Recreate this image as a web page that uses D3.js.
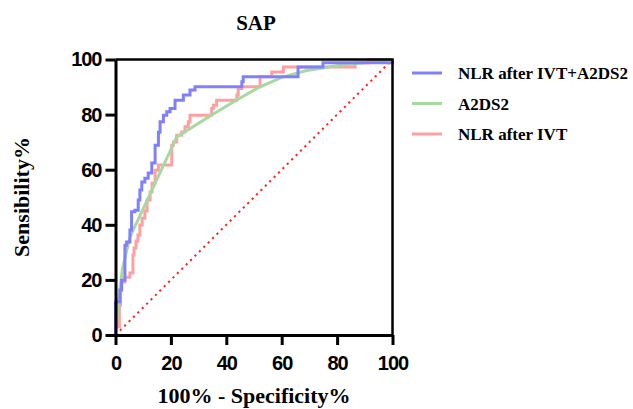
<!DOCTYPE html>
<html>
<head>
<meta charset="utf-8">
<script src="https://cdn.jsdelivr.net/npm/d3@7"></script>
<style>
  body { margin: 0; background: #fff; }
  .tick text { font-family: "Liberation Sans", Arial, sans-serif; font-weight: bold; font-size: 20px; letter-spacing: -1px; fill: #000; }
  .serif { font-family: "Liberation Serif", "Times New Roman", serif; font-weight: bold; fill: #000; }
</style>
</head>
<body>
<div id="roc"></div>
<script>
// ROC points [100% - specificity, sensitivity]
var comboRoc = [[0,0],[0.2,11.6],[1.6,12.1],[2.2,16.3],[3.4,19.9],[4.0,32.6],[5.2,33.8],[5.8,38.1],
  [7.0,44.7],[8.2,45.3],[8.8,49.0],[9.5,52.6],[10.6,55.5],[11.8,56.9],[13.1,58.8],[14.3,62.4],
  [15.5,68.9],[16.1,73.6],[17.3,77.4],[18.5,79.8],[19.7,81.0],[21.5,82.2],[24.5,85.2],[26.9,87.1],
  [28.7,88.9],[31.6,90.1],[45.6,90.1],[46.1,91.9],[47.4,93.7],[65.9,93.7],[66.6,97.3],[74.9,97.3],
  [74.9,98.8],[100,98.8],[100,100]];

var a2ds2Roc = [[0,0],[0.9,10.9],[2.5,24],[5.2,35.5],[22.1,71.9],[35,80],[45,86],[52,90],
  [60,93.5],[69,96],[81,97.9],[93,99.2],[100,100]];

var nlrRoc = [[0,0],[1.4,3],[1.8,10.9],[2.2,16.3],[3.4,19.2],[5.2,21.0],[6.3,22.5],[6.7,29.0],
  [7.4,31.6],[8.1,34.1],[8.8,36.3],[9.6,39.9],[10.6,42.4],[11.4,45.0],[12.5,49.0],[13.2,51.9],
  [14.3,55.1],[15.5,59.8],[16.1,61.7],[20.3,61.7],[20.3,67.7],[20.9,68.9],[22.1,70.1],[23.9,72.5],
  [25.1,73.7],[26.3,75.6],[26.9,77.4],[28.7,79.8],[34.7,79.8],[35.3,82.2],[36.5,83.4],[37.7,85.2],
  [43.8,85.2],[44.3,87.1],[45.6,89.5],[46.1,90.1],[52.2,90.1],[52.8,93.7],[56.4,93.7],[57.0,95.5],
  [60.6,95.5],[60.6,97.3],[86.5,97.3],[86.5,98.8],[91.2,98.8],[91.2,100],[100,100]];

var refLine = [[0,0],[100,100]];
var ticks = [0, 20, 40, 60, 80, 100];
var seriesNames = ["NLR after IVT+A2DS2", "A2DS2", "NLR after IVT"];
var seriesColors = ["#8080ff", "#a6d9a0", "#ffa0a0"];

var width = 633, height = 409;

var svg = d3.select("#roc")
  .append("svg")
  .attr("width", width)
  .attr("height", height);

var x = d3.scaleLinear().domain([0, 100]).range([115.5, 392.5]);
var y = d3.scaleLinear().domain([0, 100]).range([335, 59.5]);

// diagonal reference
svg.append("path")
  .datum(refLine)
  .attr("d", d3.line().x(d => x(d[0])).y(d => y(d[1])))
  .attr("fill", "none")
  .attr("stroke", "#ff2020")
  .attr("stroke-width", 2)
  .attr("stroke-dasharray", "2.2,4");

var step = d3.line().x(d => x(d[0])).y(d => y(d[1])).curve(d3.curveStepBefore);
var straight = d3.line().x(d => x(d[0])).y(d => y(d[1]));

svg.append("path").datum(nlrRoc)
  .attr("d", step).attr("fill", "none")
  .attr("stroke", seriesColors[2]).attr("stroke-width", 3);

svg.append("path").datum(a2ds2Roc)
  .attr("d", straight).attr("fill", "none")
  .attr("stroke", seriesColors[1]).attr("stroke-width", 3);

svg.append("path").datum(comboRoc)
  .attr("d", step).attr("fill", "none")
  .attr("stroke", seriesColors[0]).attr("stroke-width", 3);

// frame on top and right
svg.append("path")
  .attr("d", "M" + x(0) + "," + y(100) + "H" + x(100) + "V" + y(0))
  .attr("fill", "none")
  .attr("stroke", "#000")
  .attr("stroke-width", 2.5);

var xAxis = svg.append("g")
  .attr("transform", "translate(0," + y(0) + ")")
  .call(d3.axisBottom(x).tickValues(ticks).tickSize(10).tickSizeOuter(0).tickPadding(11));

var yAxis = svg.append("g")
  .attr("transform", "translate(" + x(0) + ",0)")
  .call(d3.axisLeft(y).tickValues(ticks).tickSize(10).tickSizeOuter(0).tickPadding(4));

svg.selectAll(".domain, .tick line")
  .attr("stroke", "#000")
  .attr("stroke-width", 3);

// titles
svg.append("text")
  .attr("class", "serif")
  .attr("x", 256).attr("y", 30)
  .attr("text-anchor", "middle")
  .style("font-size", "21px")
  .text("SAP");

svg.append("text")
  .attr("class", "serif")
  .attr("x", 254).attr("y", 403)
  .attr("text-anchor", "middle")
  .style("font-size", "22px")
  .text("100% - Specificity%");

svg.append("text")
  .attr("class", "serif")
  .attr("transform", "translate(29,197) rotate(-90)")
  .attr("text-anchor", "middle")
  .style("font-size", "22px")
  .text("Sensibility%");

// legend
var legend = svg.append("g");
seriesNames.forEach(function (name, i) {
  var ly = 73 + i * 30.5;
  legend.append("line")
    .attr("x1", 412).attr("x2", 442)
    .attr("y1", ly).attr("y2", ly)
    .attr("stroke", seriesColors[i])
    .attr("stroke-width", 3);
  legend.append("text")
    .attr("class", "serif")
    .attr("x", 458).attr("y", ly + 6)
    .style("font-size", "17px")
    .text(name);
});
</script>
</body>
</html>
